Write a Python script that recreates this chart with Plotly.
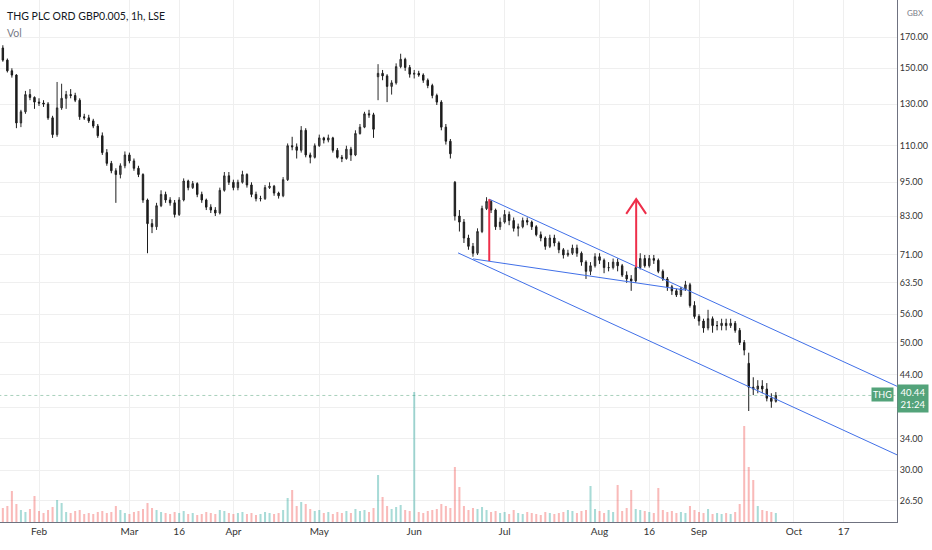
import numpy as np
import plotly.graph_objects as go

# THG PLC, one bar per trading day, 20 Jan 2022 .. 26 Sep 2022 (bar index 0..171)
opens = [162.7, 155, 148.5, 146, 120.5, 126, 135, 133.5, 131, 130.5,
         130, 123, 115, 128, 133, 135, 134.5, 132, 123.5, 123,
         121.5, 119, 114.5, 107, 102.5, 99.5, 98, 101.5, 106, 103.5,
         100.5, 98, 88.5, 80.5, 79.5, 86.5, 90.5, 88.5, 87.5, 83.5,
         88.5, 95.5, 93, 94.5, 90.5, 88.5, 86, 85, 84, 92,
         97.5, 95, 93, 95, 98, 94, 90.5, 89, 89, 93,
         93.5, 91, 90, 96, 110, 109.5, 108, 117, 106, 105,
         110, 113.5, 112.5, 113.5, 108, 105, 104.5, 108.5, 106, 115.5,
         118.5, 125, 124.5, 145, 147, 145.5, 139.5, 141.5, 151, 155.5,
         150.5, 146.5, 147, 146, 143, 140, 134.5, 131, 118.5, 112,
         95, 83, 81, 76, 73.5, 71.5, 78, 85.5, 88, 85,
         79.5, 81, 83.5, 81.5, 79, 79.5, 81.5, 81, 79.5, 77,
         76, 73.5, 76, 74.5, 72.5, 71, 71.5, 73, 71.5, 69,
         66.5, 68, 70.5, 69.5, 67.5, 67.5, 69, 68, 65.5, 64.5,
         64, 67.5, 70, 68, 70, 69.5, 66.5, 64.5, 62.5, 61.5,
         60.5, 62, 63, 58, 55.5, 54.5, 53, 55, 53.5, 53.5,
         54, 53.5, 54, 52.5, 50, 46, 41.8, 41.5, 42, 41.5,
         40, 39.5]
highs = [164.5, 156, 150, 146.5, 127, 137, 138, 134, 133, 132,
         131, 124, 142, 141, 137, 138, 136, 133, 125, 124.5,
         122.5, 120, 116, 108.5, 103.5, 100.5, 102.5, 107.5, 107, 104.5,
         101.5, 98.5, 89, 82, 87.5, 92, 91.5, 89.5, 88.5, 89.5,
         96.5, 96, 95.5, 95, 91.5, 89, 87, 86, 93, 99,
         99, 96, 96, 99.5, 98.5, 95, 91.5, 90, 94, 95,
         94, 91.5, 97, 111, 114, 111, 119, 118, 107, 111,
         115, 114, 115, 114, 109, 106, 110, 109.5, 117, 120,
         126, 127, 125.5, 152.5, 149, 146.5, 143, 153, 159, 156.5,
         152, 149, 148.5, 147, 144, 141, 135.5, 132, 120, 113,
         95.5, 85, 82, 77, 74.5, 79, 86.5, 89.5, 88.5, 85.5,
         82.5, 85, 84.5, 82.5, 80.5, 82.5, 82.5, 81.5, 80, 78,
         76.5, 77, 77, 75, 73, 72.5, 74, 74, 72, 69.5,
         69, 71.5, 71.5, 70, 69, 70, 70, 68.5, 66.5, 65.5,
         68, 71.5, 71, 71, 71, 70, 67, 65, 63, 62,
         62.5, 64, 63.5, 59, 56, 55, 57, 55.5, 54.5, 55,
         55, 55, 54.5, 53, 50.5, 48, 43.5, 43, 43, 42.5,
         40.8, 41]
lows = [154, 147.5, 144.5, 118, 118.5, 125, 132, 127.5, 129, 128.5,
        122, 113.5, 114, 127, 127.5, 133, 131, 122, 122, 120.5,
        118, 113.5, 106, 101.5, 98.5, 87.5, 96.5, 100.5, 102.5, 99.5,
        97, 87.5, 71.5, 77.5, 78.5, 86, 87.5, 86.5, 82.5, 83,
        88, 92, 92.5, 89.5, 87.5, 85, 84, 83, 83.5, 91.5,
        94, 92, 92, 94.5, 93, 89.5, 88, 88, 88.5, 92.5,
        90, 89, 89.5, 95.5, 108, 104.5, 107, 105, 102.5, 104.5,
        109.5, 111, 111.5, 107, 104.5, 103, 104, 103.5, 105.5, 115,
        118, 123, 113.5, 132, 143, 131, 135, 140.5, 150, 148.5,
        144.5, 144, 145, 141.5, 138.5, 133, 129.5, 117, 110.5, 104.5,
        81.5, 78, 74.5, 72.5, 70.5, 71, 77.5, 85, 84, 78.5,
        78.5, 80.5, 80, 78, 76.5, 79, 80, 78.5, 76.5, 75,
        72.5, 73, 73.5, 71.5, 70, 70.5, 71, 70.5, 68, 64.5,
        65.5, 67.5, 68.5, 66, 66.5, 67, 66.5, 65, 63.5, 61.5,
        63.5, 67, 67.5, 67.5, 68.5, 66, 64, 61.5, 60.5, 60,
        60, 61.5, 57.5, 55, 53.5, 52, 52.5, 52, 52.5, 52.5,
        52.5, 53, 52, 49.5, 47.5, 38, 40.5, 40.8, 40.8, 39.5,
        38.5, 39.3]
closes = [155, 148.5, 146, 120.5, 126, 135, 133.5, 131, 130.5, 130,
          123, 115, 128, 133, 135, 134.5, 132, 123.5, 123, 121.5,
          119, 114.5, 107, 102.5, 99.5, 98, 101.5, 106, 103.5, 100.5,
          98, 88.5, 80.5, 79.5, 86.5, 90.5, 88.5, 87.5, 83.5, 88.5,
          95.5, 93, 94.5, 90.5, 88.5, 86, 85, 84, 92, 97.5,
          95, 93, 95, 98, 94, 90.5, 89, 89, 93, 93.5,
          91, 90, 96, 110, 109.5, 108, 117, 106, 105, 110,
          113.5, 112.5, 113.5, 108, 105, 104.5, 108.5, 106, 115.5, 118.5,
          125, 124.5, 117.5, 147, 145.5, 139.5, 141.5, 151, 155.5, 150.5,
          146.5, 147, 146, 143, 140, 134.5, 131, 118.5, 112, 106.5,
          83, 81, 76, 73.5, 71.5, 78, 85.5, 88, 85, 79.5,
          81, 83.5, 81.5, 79, 79.5, 81.5, 81, 79.5, 77, 76,
          73.5, 76, 74.5, 72.5, 71, 71.5, 73, 71.5, 69, 66.5,
          68, 70.5, 69.5, 67.5, 67.5, 69, 68, 65.5, 64.5, 64,
          67.5, 70, 68, 70, 69.5, 66.5, 64.5, 62.5, 61.5, 60.5,
          62, 63, 58, 55.5, 54.5, 53, 55, 53.5, 53.5, 54,
          53.5, 54, 52.5, 50, 48.5, 41.8, 41.5, 42, 41.5, 40,
          39.5, 40.44]
volumes = [1.4, 1.6, 3.1, 1.8, 1.2, 1.0, 1.3, 2.6, 1.1, 0.9,
           1.2, 1.5, 2.2, 1.9, 1.0, 0.9, 1.1, 1.2, 0.8, 0.9,
           0.8, 1.0, 1.1, 0.9, 1.0, 1.6, 1.2, 0.9, 0.8, 1.0,
           1.1, 1.3, 1.9, 1.4, 1.2, 1.0, 0.9, 0.8, 1.0, 0.9,
           1.1, 0.8, 0.9, 0.7, 0.8, 1.0, 0.9, 0.8, 1.2, 1.1,
           0.9, 0.8, 0.9, 1.0, 0.8, 0.9, 0.7, 0.8, 1.0, 0.9,
           0.8, 0.9, 1.2, 2.4, 3.2, 1.6, 2.0, 1.8, 1.3, 1.1,
           1.2, 0.9, 1.0, 0.8, 1.0, 0.9, 1.1, 0.9, 1.3, 1.1,
           1.2, 1.0, 1.4, 4.7, 2.5, 1.6, 1.3, 1.5, 1.7, 1.2,
           1.1, 13.0, 1.0, 0.9, 1.1, 1.2, 1.3, 1.8, 1.6, 1.4,
           5.5, 3.5, 1.6, 1.2, 1.4, 1.3, 1.5, 1.2, 1.0, 1.1,
           0.9, 1.0, 0.8, 1.2, 0.9, 0.8, 1.0, 0.9, 0.8, 0.7,
           1.0, 0.9, 0.8, 0.9, 1.0, 1.2, 1.1, 0.9, 1.1, 1.2,
           3.6, 1.3, 1.1, 0.9, 1.2, 1.0, 3.7, 1.1, 1.4, 3.2,
           1.3, 1.2, 1.1, 1.0, 0.9, 3.4, 1.2, 1.0, 1.1, 0.9,
           1.0, 0.9, 1.6, 1.2, 1.0, 0.9, 1.3, 0.8, 0.9, 0.8,
           0.9, 0.8, 1.0, 1.8, 9.6, 5.5, 4.2, 1.6, 1.2, 1.1,
           1.0, 0.9]

tick_idx = [8, 28, 39, 51, 70, 91, 111, 132, 143, 154, 175, 186]
tick_text = ['Feb', 'Mar', '16', 'Apr', 'May', 'Jun', 'Jul', 'Aug', '16', 'Sep', 'Oct', '17']
price_ticks = [170, 150, 130, 110, 95, 83, 71, 63.5, 56, 50, 44, 38.5, 34, 30, 26.5]
price_text = ['170.00', '150.00', '130.00', '110.00', '95.00', '83.00', '71.00', '63.50',
              '56.00', '50.00', '44.00', '', '34.00', '30.00', '26.50']
last_price = 40.44

# user drawings: (bar index, price)
chan_top_x, chan_top_p = [107.6, 200], [88.8, 41.2]
chan_bot_x, chan_bot_p = [100.7, 200], [71.6, 31.3]
wedge_x, wedge_p = [104.0, 150.9], [69.9, 61.7]
pole_x, pole_p = [107.6, 107.6], [69.3, 88.8]
arrow_x, arrow_p = [140.1, 140.1], [67.6, 88.8]
head_x, head_p = [137.9, 140.1, 142.3], [83.7, 88.8, 83.7]

bars = list(range(len(closes)))
vol_colors = ['rgba(38,166,154,0.4)' if c >= o else 'rgba(239,83,80,0.4)'
              for o, c in zip(opens, closes)]

font = 'Lato, Roboto, sans-serif'
green = '#53a37a'

fig = go.Figure()

fig.add_trace(go.Bar(x=bars, y=volumes, marker=dict(color=vol_colors, line=dict(width=0)),
                     yaxis='y2', showlegend=False, hoverinfo='skip'))

fig.add_trace(go.Scatter(x=[-1, 200], y=[last_price, last_price], mode='lines',
                         line=dict(color='rgba(83,163,122,0.5)', width=1, dash='dot'),
                         showlegend=False, hoverinfo='skip'))

fig.add_trace(go.Candlestick(
    x=bars, open=opens, high=highs, low=lows, close=closes,
    increasing=dict(line=dict(color='#2b2b2b', width=1), fillcolor='#555555'),
    decreasing=dict(line=dict(color='#1c1c1c', width=1), fillcolor='#1c1c1c'),
    whiskerwidth=0, showlegend=False))

# trend lines
for lx, lp in [(chan_top_x, chan_top_p), (chan_bot_x, chan_bot_p), (wedge_x, wedge_p)]:
    fig.add_trace(go.Scatter(x=lx, y=lp, mode='lines', line=dict(color='#4170e8', width=1),
                             showlegend=False, hoverinfo='skip'))
# red pole + arrow
for lx, lp in [(pole_x, pole_p), (arrow_x, arrow_p), (head_x, head_p)]:
    fig.add_trace(go.Scatter(x=lx, y=lp, mode='lines', line=dict(color='#ee2f4a', width=2),
                             showlegend=False, hoverinfo='skip'))

fig.update_layout(
    width=932, height=550,
    margin=dict(l=0, r=35, t=0, b=28),
    paper_bgcolor='white', plot_bgcolor='white',
    font=dict(family=font, size=10, color='#333'),
    bargap=0.55, boxgap=0.55,
    xaxis=dict(range=[-0.63, 197.8], rangeslider=dict(visible=False),
               tickvals=tick_idx, ticktext=tick_text, ticks='',
               showgrid=True, gridcolor='#efefef', zeroline=False,
               showline=True, linecolor='#6f7280', linewidth=1,
               tickfont=dict(size=10, color='#333')),
    yaxis=dict(type='log', side='right', range=[np.log10(24.36), np.log10(197.2)],
               tickvals=price_ticks, ticktext=price_text,
               showgrid=True, gridcolor='#efefef', zeroline=False,
               showline=True, linecolor='#6f7280', linewidth=1, ticks='',
               tickfont=dict(size=9, color='#333')),
    yaxis2=dict(overlaying='y', range=[0, 52.2], visible=False),
    hovermode=False,
)

fig.add_annotation(x=0.006, y=0.969, xref='paper', yref='paper', xanchor='left', yanchor='middle',
                   text='THG PLC ORD GBP0.005, 1h, LSE', showarrow=False,
                   font=dict(size=10.5, color='#131722'))
fig.add_annotation(x=0.006, y=0.937, xref='paper', yref='paper', xanchor='left', yanchor='middle',
                   text='Vol', showarrow=False, font=dict(size=10.5, color='#787b86'))
fig.add_annotation(x=1.009, y=0.975, xref='paper', yref='paper', xanchor='left', yanchor='middle',
                   text='GBX', showarrow=False, font=dict(size=8, color='#787b86'))
fig.add_annotation(x=1.0, y=np.log10(last_price) - 0.006, xref='paper', yref='y', xanchor='left',
                   yanchor='middle', text='%.2f<br>21:24' % last_price, showarrow=False, bgcolor=green,
                   borderpad=2, width=26, font=dict(size=9.5, color='white'))
fig.add_annotation(x=0.9967, y=np.log10(last_price) + 0.002, xref='paper', yref='y', xanchor='right',
                   yanchor='middle', text='THG', showarrow=False, bgcolor=green, borderpad=1,
                   font=dict(size=9, color='white'))

fig.write_html('out.html', config={'displayModeBar': False},
               post_script="document.body.style.margin='0';")
